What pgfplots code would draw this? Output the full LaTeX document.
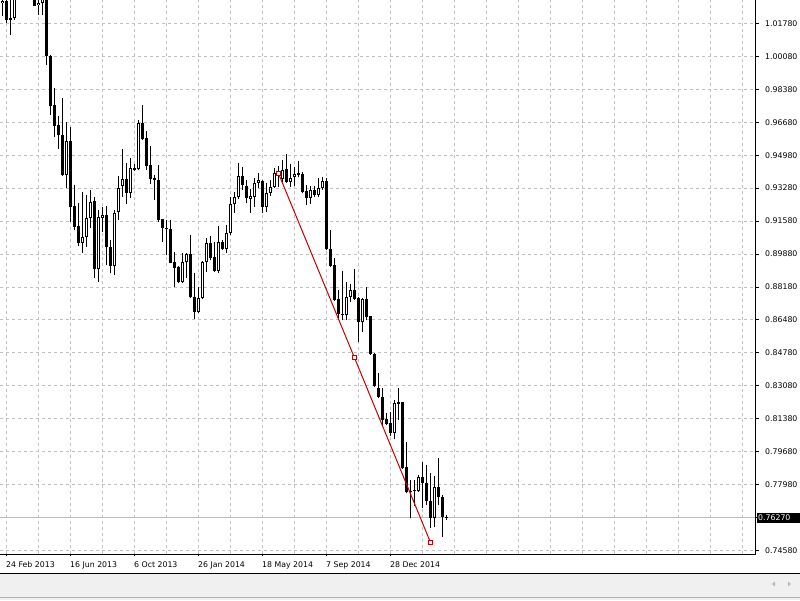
\documentclass[border=0pt]{standalone}
\usepackage{pgfplots}
\pgfplotsset{compat=1.18}
\usepackage{pgfplotstable}
\usepackage{fontspec}
\setmainfont{DejaVu Sans}
\definecolor{gridc}{RGB}{192,192,192}
\definecolor{trend}{RGB}{200,0,0}
\definecolor{panel}{RGB}{240,240,240}

% weekly candles, i = bar number (0 = 17 Feb 2013)
\pgfplotstableread{
i O H L C
0 1.0281 1.0319 1.0217 1.0292
1 1.0292 1.0314 1.0181 1.0195
2 1.0203 1.0329 1.0118 1.0197
3 1.0204 1.0352 1.0195 1.0338
4 1.0338 1.0480 1.0320 1.0465
5 1.0465 1.0500 1.0380 1.0420
6 1.0420 1.0510 1.0400 1.0495
7 1.0495 1.0580 1.0340 1.0380
8 1.0375 1.0410 1.0265 1.0269
9 1.0271 1.0309 1.0221 1.0284
10 1.0284 1.0329 1.0221 1.0309
11 1.0309 1.0319 0.9963 1.0009
12 1.0009 1.0015 0.9705 0.9752
13 0.9757 0.9843 0.9593 0.9650
14 0.9652 0.9700 0.9528 0.9600
15 0.9600 0.9791 0.9391 0.9396
16 0.9397 0.9668 0.9327 0.9570
17 0.9570 0.9645 0.9155 0.9229
18 0.9236 0.9344 0.9112 0.9129
19 0.9133 0.9250 0.9030 0.9047
20 0.9047 0.9307 0.8992 0.9074
21 0.9074 0.9293 0.9026 0.9172
22 0.9172 0.9318 0.9121 0.9258
23 0.9262 0.9284 0.8863 0.8909
24 0.8909 0.9215 0.8846 0.9178
25 0.9174 0.9232 0.9103 0.9189
26 0.9189 0.9236 0.8932 0.9023
27 0.9023 0.9061 0.8889 0.8928
28 0.8928 0.9215 0.8880 0.9198
29 0.9203 0.9391 0.9164 0.9329
30 0.9340 0.9528 0.9284 0.9374
31 0.9374 0.9459 0.9246 0.9304
32 0.9304 0.9482 0.9276 0.9430
33 0.9430 0.9450 0.9415 0.9424
34 0.9426 0.9679 0.9420 0.9665
35 0.9662 0.9757 0.9576 0.9581
36 0.9585 0.9624 0.9422 0.9442
37 0.9446 0.9545 0.9349 0.9377
38 0.9380 0.9396 0.9267 0.9370
39 0.9372 0.9447 0.9155 0.9164
40 0.9167 0.9170 0.9052 0.9121
41 0.9124 0.9164 0.8983 0.9116
42 0.9117 0.9164 0.8940 0.8943
43 0.8946 0.9000 0.8817 0.8918
44 0.8920 0.8925 0.8840 0.8844
45 0.8844 0.8995 0.8837 0.8946
46 0.8946 0.8992 0.8863 0.8987
47 0.8987 0.9086 0.8760 0.8765
48 0.8768 0.8892 0.8652 0.8691
49 0.8691 0.8820 0.8686 0.8760
50 0.8760 0.8954 0.8755 0.8949
51 0.8949 0.9069 0.8897 0.9047
52 0.9047 0.9081 0.8957 0.8966
53 0.8971 0.9052 0.8897 0.8902
54 0.8902 0.9133 0.8892 0.9052
55 0.9052 0.9061 0.9009 0.9013
56 0.9013 0.9138 0.8992 0.9095
57 0.9095 0.9284 0.9086 0.9246
58 0.9248 0.9310 0.9201 0.9281
59 0.9281 0.9459 0.9270 0.9391
60 0.9391 0.9439 0.9318 0.9344
61 0.9340 0.9370 0.9250 0.9276
62 0.9270 0.9322 0.9201 0.9286
63 0.9284 0.9379 0.9232 0.9356
64 0.9356 0.9408 0.9327 0.9372
65 0.9366 0.9370 0.9201 0.9232
66 0.9232 0.9353 0.9206 0.9304
67 0.9304 0.9370 0.9287 0.9335
68 0.9335 0.9430 0.9327 0.9408
69 0.9400 0.9440 0.9335 0.9412
70 0.9374 0.9473 0.9361 0.9422
71 0.9425 0.9504 0.9356 0.9361
72 0.9359 0.9452 0.9335 0.9379
73 0.9386 0.9435 0.9339 0.9402
74 0.9404 0.9469 0.9384 0.9396
75 0.9399 0.9413 0.9301 0.9310
76 0.9315 0.9344 0.9241 0.9276
77 0.9276 0.9339 0.9246 0.9318
78 0.9318 0.9339 0.9281 0.9293
79 0.9293 0.9379 0.9281 0.9327
80 0.9327 0.9387 0.9318 0.9365
81 0.9366 0.9379 0.9009 0.9013
82 0.9013 0.9112 0.8921 0.8926
83 0.8930 0.8968 0.8746 0.8750
84 0.8755 0.8803 0.8648 0.8679
85 0.8679 0.8901 0.8648 0.8673
86 0.8676 0.8845 0.8648 0.8765
87 0.8765 0.8834 0.8742 0.8803
88 0.8803 0.8909 0.8751 0.8755
89 0.8760 0.8765 0.8536 0.8639
90 0.8639 0.8760 0.8588 0.8755
91 0.8755 0.8817 0.8648 0.8665
92 0.8668 0.8671 0.8468 0.8471
93 0.8474 0.8478 0.8304 0.8309
94 0.8296 0.8373 0.8244 0.8249
95 0.8252 0.8296 0.8107 0.8132
96 0.8137 0.8170 0.8107 0.8112
97 0.8115 0.8174 0.8050 0.8067
98 0.8067 0.8235 0.8033 0.8218
99 0.8213 0.8296 0.8132 0.8224
100 0.8224 0.8227 0.7878 0.7883
101 0.7888 0.8020 0.7754 0.7763
102 0.7768 0.7823 0.7625 0.7763
103 0.7766 0.7823 0.7689 0.7772
104 0.7768 0.7849 0.7763 0.7837
105 0.7837 0.7917 0.7677 0.7806
106 0.7806 0.7900 0.7694 0.7716
107 0.7716 0.7857 0.7574 0.7625
108 0.7625 0.7843 0.7582 0.7785
109 0.7785 0.7935 0.7694 0.7734
110 0.7737 0.7746 0.7531 0.7631
111 0.7630 0.7640 0.7617 0.7627
}\candles

\begin{document}
\begin{tikzpicture}[x=1pt,y=1pt]
\useasboundingbox (0,0) rectangle (800,600);
\fill[white] (0,0) rectangle (800,600);
\fill[panel] (0,0) rectangle (800,26);
\draw[black, line width=1pt] (0,26.5) -- (800,26.5);
\draw[gray!60, line width=1pt] (0,2.5) -- (800,2.5);
\fill[gray!55] (775,13.5) -- (775,18.5) -- (772,16) -- cycle;
\fill[gray!55] (788,13.5) -- (788,18.5) -- (791,16) -- cycle;
\coordinate (corner) at (0pt,46pt);

\begin{axis}[
    at={(corner)}, anchor=south west,
    scale only axis, width=755pt, height=554pt,
    xmin=-0.5, xmax=188.25,
    ymin=0.74412, ymax=1.02982,
    axis line style={draw=none},
    xtick={1,17,33,49,65,81,97},
    xticklabels={24 Feb 2013,16 Jun 2013,6 Oct 2013,26 Jan 2014,18 May 2014,7 Sep 2014,28 Dec 2014},
    minor xtick={9,25,41,57,73,89,105,113,121,129,137,145,153,161,169,177,185},
    ytick={0.7458,0.7628,0.7798,0.7968,0.8138,0.8308,0.8478,0.8648,0.8818,0.8988,0.9158,0.9328,0.9498,0.9668,0.9838,1.0008,1.0178},
    yticklabels={0.74580,{},0.77980,0.79680,0.81380,0.83080,0.84780,0.86480,0.88180,0.89880,0.91580,0.93280,0.94980,0.96680,0.98380,1.00080,1.01780},
    xtick pos=bottom, ytick pos=right, yticklabel pos=right,
    tick align=outside,
    major tick length=4pt, minor tick length=0pt,
    xtick style={/pgfplots/major tick length=2pt},
    xmajorgrids, xminorgrids, ymajorgrids,
    grid style={gridc, dash pattern=on 3pt off 3pt, line width=1pt},
    minor grid style={gridc, dash pattern=on 3pt off 3pt, line width=1pt},
    tick style={black, line width=1pt},
    tick label style={font=\fontsize{7.8}{9}\selectfont, inner sep=0pt, black},
    xticklabel style={anchor=west, yshift=-7pt},
    yticklabel style={anchor=west, xshift=6pt},
    /pgf/number format/assume math mode=true,
]
% current price line
\addplot[gridc, line width=1pt] coordinates {(-0.5,0.7627) (188.25,0.7627)};
% wicks
\addplot[draw=none, no markers, error bars/.cd, y dir=plus, y explicit, error mark=none,
    error bar style={draw=black, line width=1pt}]
  table[x=i, y=L, y error expr=\thisrow{H}-\thisrow{L}] {\candles};
% bodies
\addplot[draw=none, no markers, error bars/.cd, y dir=plus, y explicit, error mark=none,
    error bar style={draw=black, line width=3pt}]
  table[x=i, y expr={min(\thisrow{O},\thisrow{C})}, y error expr={abs(\thisrow{C}-\thisrow{O})}] {\candles};
% hollow inside of rising candles
\addplot[draw=none, no markers, restrict expr to domain={\thisrow{C}-\thisrow{O}}{0.0011:1},
    error bars/.cd, y dir=plus, y explicit, error mark=none,
    error bar style={draw=white, line width=1pt}]
  table[x=i, y expr={\thisrow{O}+0.00052}, y error expr={\thisrow{C}-\thisrow{O}-0.00104}] {\candles};
% trend line
\addplot[trend, line width=1pt, mark=square*, mark size=2pt,
    mark options={fill=white, draw=trend, line width=0.8pt}]
  coordinates {(69.08,0.9406) (88.08,0.8455) (107.08,0.7503)};
\coordinate (cp) at (axis cs:188.25,0.7627);
\end{axis}

\draw[black, line width=1pt] (0,45.5) -- (755.5,45.5) -- (755.5,600);
\node[anchor=west, fill=black, text=white, inner xsep=1.5pt, inner ysep=0pt,
    minimum height=10pt, text width=40pt, font=\fontsize{7.8}{9}\selectfont]
    at ([xshift=1.5pt]cp) {0.76270};
\end{tikzpicture}
\end{document}
